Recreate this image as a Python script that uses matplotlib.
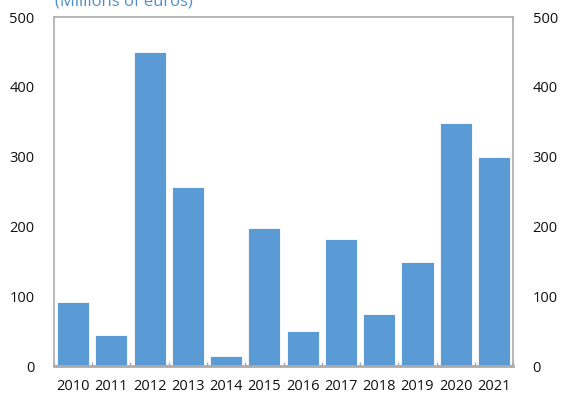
import matplotlib
matplotlib.use('Agg')
import matplotlib.pyplot as plt
import numpy as np

plt.rcParams['font.family'] = ['Open Sans', 'DejaVu Sans']

# ===== data =====
years = ['2010', '2011', '2012', '2013', '2014', '2015',
         '2016', '2017', '2018', '2019', '2020', '2021']
values = [92, 44, 450, 256, 14, 198, 50, 182, 75, 149, 348, 299]

bar_color = '#5B9BD5'
spine_color = '#ABABAB'

fig = plt.figure(figsize=(5.62, 3.98), dpi=100)
ax = fig.add_axes([0.096, 0.080, 0.817, 0.877])

x = np.arange(len(years))
ax.bar(x, values, width=0.84, color=bar_color, edgecolor='white', linewidth=0.6, zorder=2)

ax.set_xlim(-0.5, len(years) - 0.5)
ax.set_ylim(0, 500)
ax.set_yticks([0, 100, 200, 300, 400, 500])

# ===== x axis: labels centred, ticks between categories =====
ax.set_xticks(x)
ax.set_xticklabels(years, fontsize=10.5, color='#111111')
ax.tick_params(axis='x', which='major', length=0, pad=9)
ax.set_xticks(np.arange(len(years) + 1) - 0.5, minor=True)
ax.tick_params(axis='x', which='minor', direction='in', length=3, width=1, color=spine_color)

# ===== y axis on both sides =====
ax.tick_params(axis='y', which='major', length=0, labelsize=10.5, labelcolor='#111111',
               left=True, right=True, labelleft=True, labelright=True, pad=14)

for side in ['top', 'left', 'right']:
    ax.spines[side].set_color(spine_color)
    ax.spines[side].set_linewidth(1.2)
ax.spines['bottom'].set_color(spine_color)
ax.spines['bottom'].set_linewidth(2)

# ===== unit label =====
fig.text(0.098, 0.997, '(Millions of euros)', color='#4F8FC9', fontsize=12,
         ha='left', va='center')

fig.savefig('out.png', dpi=100)
